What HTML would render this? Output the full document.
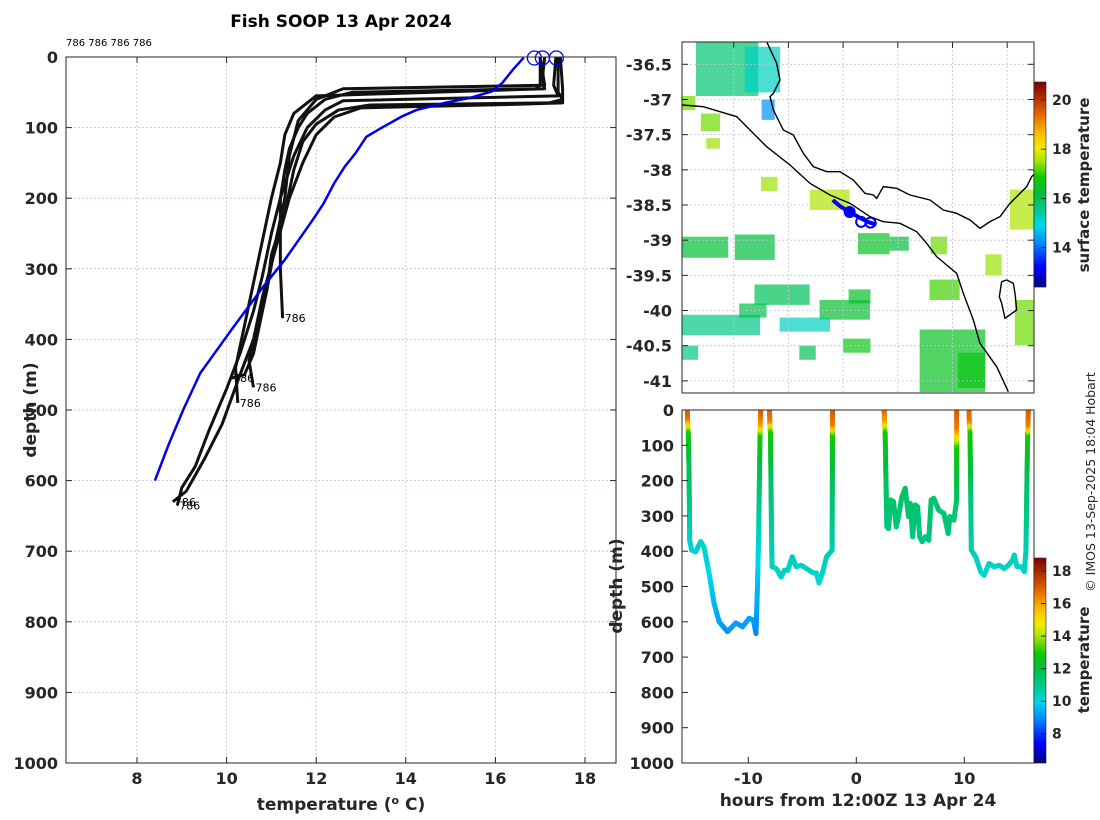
<!DOCTYPE html>
<html><head><meta charset="utf-8"><style>
html,body{margin:0;padding:0;background:#fff;}
svg{display:block;font-family:"DejaVu Sans","Liberation Sans",sans-serif;}
.tk{font-weight:bold;font-size:16px;fill:#262626;}
</style></head><body>
<svg id="c" width="1100" height="820" viewBox="0 0 1100 820" xmlns="http://www.w3.org/2000/svg">
<defs>
<clipPath id="mapclip"><rect x="682" y="42" width="352" height="351"/></clipPath>
<clipPath id="botclip"><rect x="682" y="410" width="352" height="353"/></clipPath>
</defs>
</svg>
<script>
// ---------- data ----------
const blueT = [16.63,16.39,16.15,15.91,15.43,14.87,14.24,13.92,13.44,13.12,12.88,12.64,12.40,12.16,11.92,11.6,11.29,10.81,10.09,10.0,9.41,9.03,8.7,8.4];
const blueD = [1,18,37,49,58,65,75,84,101,113,136,155,179,208,231,260,288,326,388,396,448,500,550,600];
const circT = [16.87,17.05,17.36];
const p1T=[17.0,17.0,16.9,12.8,12.2,11.8,11.6,11.4,11.3,11.2,11.2,11.2,11.25];
const p1D=[0,40,45,50,60,80,100,130,160,200,250,300,370];
const p2T=[17.4,17.4,17.5,17.2,13.2,12.5,12.0,11.7,11.5,11.3,11.0,10.9,10.7,10.5,10.6];
const p2D=[0,50,60,65,68,75,95,120,160,220,280,330,380,430,468];
const p3T=[17.1,17.05,17.1,12.0,11.5,11.3,11.2,11.0,10.8,10.6,10.4,10.2,10.25];
const p3D=[0,30,45,55,80,110,150,200,260,320,380,440,490];
const p4T=[17.35,17.3,17.4,12.6,12.2,11.8,11.5,11.2,11.0,10.8,10.6,10.3,10.0,9.6,9.3,9.0,8.9];
const p4D=[0,40,55,62,75,100,140,200,250,310,360,420,470,530,580,610,635];
const p5T=[17.45,17.5,17.5,16.5,13.0,12.4,12.0,11.7,11.4,11.1,10.8,10.6,10.3,9.9,9.5,9.1,8.8];
const p5D=[0,45,65,67,72,85,110,150,200,270,340,400,450,520,570,615,630];
const p6T=[17.0,17.1,12.6,12.0,11.6,11.4,11.3,11.1,10.9,10.6,10.4,10.1];
const p6D=[0,40,45,60,90,140,200,260,330,420,450,455];
const profT=[p1T,p2T,p3T,p4T,p5T,p6T];
const profD=[p1D,p2D,p3D,p4D,p5D,p6D];
const xTicks=[8,10,12,14,16,18];
const yTicks=[0,100,200,300,400,500,600,700,800,900,1000];

// SST patches: lon0, lat0, lon1, lat1, value
const sstLon0=[138.31,139.2,139.51,138.05,138.4,138.5,140.39,139.5,141.27,141.85,139.02,138.05,139.38,140.57,139.84,138.05,138.05,142.58,142.4,143.1,144.14,144.05,143.6,142.6,141.1,139.1,140.2,141.0];
const sstLat0=[-36.18,-36.25,-37.0,-36.95,-37.2,-37.55,-38.28,-38.1,-38.9,-38.95,-38.92,-38.95,-39.63,-39.85,-40.1,-40.06,-40.5,-39.56,-40.27,-40.6,-39.85,-38.28,-39.2,-38.95,-39.7,-39.9,-40.5,-40.4];
const sstLon1=[139.45,139.85,139.75,138.3,138.75,138.75,141.12,139.8,141.85,142.2,139.75,138.9,140.39,141.49,140.76,139.48,138.35,143.13,143.6,143.6,144.48,144.48,143.9,142.9,141.5,139.6,140.5,141.5];
const sstLat1=[-36.95,-36.9,-37.29,-37.15,-37.45,-37.7,-38.57,-38.3,-39.2,-39.15,-39.28,-39.25,-39.92,-40.13,-40.3,-40.35,-40.7,-39.85,-41.16,-41.1,-40.49,-38.85,-39.5,-39.2,-39.9,-40.1,-40.7,-40.6];
const sstVal=[15.8,15.2,14.3,17.3,17.3,17.5,17.6,17.5,16.5,16.2,16.2,16.3,16.0,16.4,15.2,15.6,15.6,17.1,16.5,16.7,17.3,17.6,17.5,17.3,16.4,16.1,16.0,16.6];
const latTicks=[-36.5,-37,-37.5,-38,-38.5,-39,-39.5,-40,-40.5,-41];
const lonTicks=[139,140,141,142,143,144];
const sstTicks=[14,16,18,20];
const trackLon=[140.81,140.95,141.12,141.3,141.45,141.61];
const trackLat=[-38.43,-38.52,-38.6,-38.68,-38.74,-38.78];

// time-depth dives
const hA=[-15.65,-15.62,-15.58,-15.56,-15.5,-15.45,-15.43,-15.25,-14.88,-14.41,-14.1,-13.63,-13.17,-12.7,-11.93,-11.15,-10.53,-9.91,-9.53,-9.29,-9.15,-9.04,-8.95,-8.91,-8.88,-8.85];
const dA=[0,30,50,66,150,280,369,397,402,373,388,463,548,600,628,603,614,590,595,633,500,350,150,66,40,0];
const tA=[17,16.8,15,13,11.8,11.0,10.4,10.3,10.3,10.4,10.3,10.0,9.6,9.3,9.1,9.3,9.2,9.3,9.3,8.9,9.6,10.4,11.8,13,16,17];
const hB=[-8.04,-8.0,-7.95,-7.9,-7.85,-7.8,-7.42,-6.96,-6.65,-6.34,-5.93,-5.56,-5.09,-4.63,-4.01,-3.70,-3.45,-3.14,-2.76,-2.24,-2.22,-2.21,-2.2,-2.2];
const dB=[0,40,66,200,350,444,449,473,454,454,416,444,440,449,461,462,490,462,416,397,200,66,40,0];
const tB=[17,16.5,13,11.5,10.8,10.4,10.4,10.3,10.4,10.4,10.5,10.4,10.4,10.4,10.3,10.3,10.2,10.3,10.5,10.6,11.6,13,16.5,17];
const hC=[2.58,2.62,2.67,2.75,2.83,2.98,3.20,3.45,3.70,3.91,4.22,4.53,4.69,4.84,5.0,5.22,5.47,5.68,5.87,6.09,6.40,6.71,6.93,7.17,7.64,8.11,8.51,8.66,9.04,9.29,9.29,9.29,9.29];
const dC=[0,40,66,200,331,336,255,260,331,302,246,222,265,302,265,359,269,274,359,373,359,369,255,250,284,293,350,302,312,255,100,50,0];
const tC=[17,16,13,11.6,11.2,11.2,11.4,11.4,11.2,11.3,11.4,11.5,11.4,11.3,11.4,11.1,11.4,11.4,11.1,11.1,11.1,11.1,11.4,11.4,11.3,11.3,11.2,11.3,11.3,11.4,13,16.5,17];
const hD=[10.43,10.47,10.53,10.6,10.65,11.06,11.52,11.83,12.3,12.76,13.23,13.70,14.07,14.47,14.63,14.88,15.31,15.56,15.71,15.8,15.87,15.9,15.93];
const dD=[0,40,66,250,397,416,458,468,435,444,440,449,440,425,411,444,444,458,397,200,66,40,0];
const tD=[17,16.5,13,11.3,10.6,10.5,10.3,10.3,10.4,10.4,10.4,10.4,10.4,10.5,10.5,10.4,10.4,10.3,10.6,11.5,13,16.5,17];
const diveH=[hA,hB,hC,hD], diveD=[dA,dB,dC,dD], diveT=[tA,tB,tC,tD];
const bxTicks=[-10,0,10];
const tempTicks=[8,10,12,14,16,18];

// ---------- helpers ----------
const svg=document.getElementById('c');
const NS='http://www.w3.org/2000/svg';
function mk(tag,attrs,parent){const e=document.createElementNS(NS,tag);for(const k in attrs)e.setAttribute(k,attrs[k]);(parent||svg).appendChild(e);return e;}
const cmStops=[[0,[0,0,127]],[0.1,[0,0,255]],[0.22,[0,140,255]],[0.3,[0,215,235]],[0.38,[0,200,140]],[0.46,[0,190,60]],[0.54,[20,200,0]],[0.62,[170,230,0]],[0.68,[240,235,0]],[0.76,[255,180,0]],[0.86,[220,90,0]],[1,[128,0,0]]];
function jet(f){f=Math.max(0,Math.min(1,f));
 for(let i=0;i<cmStops.length-1;i++){const a=cmStops[i],b=cmStops[i+1];
  if(f<=b[0]){const u=(f-a[0])/(b[0]-a[0]);const c=a[1].map((v,k)=>Math.round(v+(b[1][k]-v)*u));return `rgb(${c[0]},${c[1]},${c[2]})`;}}
 return 'rgb(128,0,0)';}
const xT=t=>137+(t-8)*44.8, yD=d=>57+d*0.706;
const xLon=l=>733.7+(l-139)*54.7, yLat=la=>64.3+(-36.5-la)*70.35;
const xH=h=>856.3+h*10.8, yB=d=>410+d*0.353;
const sstC=v=>jet((v-12.4)/(20.73-12.4));
const tmpC=v=>jet((v-6.2)/(18.8-6.2));

// ---------- left profile plot ----------
const gL=mk('g',{});


mk('rect',{x:66,y:57,width:550,height:706,fill:'#fff'},gL);
xTicks.forEach((t,i)=>{
 const g=mk('line',{x1:xT(t),x2:xT(t),y1:57,y2:763,stroke:i%2?'#d8c0b0':'#b8c0e0','stroke-width':0.8,'stroke-dasharray':'2,2'},gL);
 
 
 mk('line',{x1:xT(t),x2:xT(t),y1:763,y2:757,stroke:'#262626'},gL);
 mk('line',{x1:xT(t),x2:xT(t),y1:57,y2:63,stroke:'#262626'},gL);
 const tx=mk('text',{x:xT(t),y:784,'text-anchor':'middle',class:'tk'},gL);tx.textContent=t;
 
 
});
yTicks.forEach(d=>{
 if(d>0&&d<1000){const g=mk('line',{x1:66,x2:616,y1:yD(d),y2:yD(d),stroke:'#b8c0e0','stroke-width':0.8,'stroke-dasharray':'2,2'},gL);
 
 }
 mk('line',{x1:66,x2:72,y1:yD(d),y2:yD(d),stroke:'#262626'},gL);
 mk('line',{x1:616,x2:610,y1:yD(d),y2:yD(d),stroke:'#262626'},gL);
 const tx=mk('text',{x:58,y:yD(d)+6,'text-anchor':'end',class:'tk'},gL);tx.textContent=d;
 
 
});
profT.forEach((T,i)=>{
 const D=profD[i];
 const pl=mk('polyline',{points:T.map((t,j)=>xT(t)+','+yD(D[j])).join(' '),fill:'none',stroke:'#111','stroke-width':3,'stroke-linejoin':'round'},gL);
 
 
 const lb=mk('text',{x:xT(T[T.length-1])+2,y:yD(D[D.length-1])+4,'font-size':'11px',fill:'#000'},gL);lb.textContent='786';
 
 
});
const bl=mk('polyline',{points:blueT.map((t,j)=>xT(t)+','+yD(blueD[j])).join(' '),fill:'none',stroke:'#0000ee','stroke-width':2.5},gL);


circT.forEach(t=>{const c=mk('circle',{cx:xT(t),cy:yD(0)+1,r:7,fill:'none',stroke:'#0000ee','stroke-width':1.3},gL);
 
 });
mk('rect',{x:66,y:57,width:550,height:706,fill:'none',stroke:'#262626','stroke-width':1},gL);
const t786=mk('text',{x:66,y:46,'font-size':'10px',fill:'#000'});t786.textContent='786 786 786 786';


const ttl=mk('text',{x:341,y:27,'text-anchor':'middle','font-weight':'bold','font-size':'17px',fill:'#000'});ttl.textContent='Fish SOOP 13 Apr 2024';


const xl=mk('text',{x:341,y:810,'text-anchor':'middle','font-weight':'bold','font-size':'17px',fill:'#262626'});
xl.innerHTML='temperature (<tspan dy="-6" font-size="11px">o</tspan><tspan dy="6"> C)</tspan>';


const yl=mk('text',{x:0,y:0,transform:'translate(36,410) rotate(-90)','text-anchor':'middle','font-weight':'bold','font-size':'17px',fill:'#262626'});yl.textContent='depth (m)';



// ---------- map ----------
const gM=mk('g',{});


mk('rect',{x:682,y:42,width:352,height:351,fill:'#fff'},gM);
const gMc=mk('g',{'clip-path':'url(#mapclip)'},gM);
sstVal.forEach((v,i)=>{
 const x0=xLon(sstLon0[i]),x1=xLon(sstLon1[i]),y0=yLat(sstLat0[i]),y1=yLat(sstLat1[i]);
 const r=mk('rect',{x:x0,y:y0,width:x1-x0,height:y1-y0,fill:sstC(v),opacity:0.7},gMc);
 
 
});
lonTicks.forEach(l=>{mk('line',{x1:xLon(l),x2:xLon(l),y1:42,y2:393,stroke:'#c0c4dc','stroke-width':0.8,'stroke-dasharray':'2,2'},gMc);
 mk('line',{x1:xLon(l),x2:xLon(l),y1:42,y2:48,stroke:'#262626'},gM);
 const t=mk('text',{x:xLon(l),y:421,'text-anchor':'middle',class:'tk'},gM);t.textContent=l;
 
 });
latTicks.forEach(la=>{mk('line',{x1:682,x2:1034,y1:yLat(la),y2:yLat(la),stroke:'#c0c4dc','stroke-width':0.8,'stroke-dasharray':'2,2'},gMc);
 mk('line',{x1:682,x2:688,y1:yLat(la),y2:yLat(la),stroke:'#262626'},gM);
 mk('line',{x1:1034,x2:1028,y1:yLat(la),y2:yLat(la),stroke:'#262626'},gM);
 const t=mk('text',{x:672,y:yLat(la)+6,'text-anchor':'end',class:'tk'},gM);t.textContent=la;
 
 });
const zc=(arr)=>arr.map(p=>(610+p[0]/3)+','+(30+p[1]/3)).join(' ');
const coast1=[[470,35],[500,100],[510,150],[490,190],[480,200],[490,240],[500,260],[520,300],[550,315],[580,370],[610,410],[650,425],[690,425],[730,450],[765,490],[790,495],[800,505],[820,470],[860,475],[900,495],[960,510],[1000,540],[1040,550],[1080,570],[1110,595],[1140,575],[1170,560],[1200,520],[1250,470],[1265,440],[1275,430]];
const coast2=[[216,225],[280,230],[330,245],[380,260],[420,300],[470,350],[540,405],[600,460],[660,495],[720,520],[780,560],[820,575],[870,580],[920,605],[950,640],[980,680],[1010,705],[1040,730],[1060,790],[1090,870],[1110,940],[1160,1010],[1195,1085]];
const isl=[[1175,755],[1190,750],[1210,760],[1215,790],[1220,840],[1185,865],[1175,820],[1168,800],[1175,755]];
[coast1,coast2,isl].forEach(c=>{const p=mk('polyline',{points:zc(c),fill:'none',stroke:'#000','stroke-width':1.4},gMc);
 
 });
const trk=mk('polyline',{points:trackLon.map((l,i)=>xLon(l)+','+yLat(trackLat[i])).join(' '),fill:'none',stroke:'#0000ee','stroke-width':4},gMc);


mk('circle',{cx:xLon(141.12),cy:yLat(-38.6),r:6,fill:'#0000ee'},gMc);
mk('circle',{cx:xLon(141.33),cy:yLat(-38.74),r:5,fill:'none',stroke:'#0000ee','stroke-width':2},gMc);
mk('circle',{cx:xLon(141.5),cy:yLat(-38.75),r:5,fill:'none',stroke:'#0000ee','stroke-width':2},gMc);
mk('rect',{x:682,y:42,width:352,height:351,fill:'none',stroke:'#262626'},gM);
// sst colorbar
for(let y=82;y<287;y++){mk('rect',{x:1034,y:y,width:12,height:1.2,fill:jet(1-(y-82)/205)},gM);}
mk('rect',{x:1034,y:82,width:12,height:205,fill:'none',stroke:'#262626','stroke-width':0.6},gM);
sstTicks.forEach(v=>{const y=82+(20.73-v)/(20.73-12.4)*205;
 mk('line',{x1:1046,x2:1041,y1:y,y2:y,stroke:'#262626'},gM);
 const t=mk('text',{x:1052,y:y+5,'font-weight':'bold','font-size':'14px',fill:'#262626'},gM);t.textContent=v;
 
 });
const sl=mk('text',{x:0,y:0,transform:'translate(1089,185) rotate(-90)','text-anchor':'middle','font-weight':'bold','font-size':'15px',fill:'#262626'},gM);sl.textContent='surface temperature';



// ---------- bottom time-depth plot ----------
const gB=mk('g',{});


mk('rect',{x:682,y:410,width:352,height:353,fill:'#fff'},gB);
const gBc=mk('g',{'clip-path':'url(#botclip)'},gB);
diveH.forEach((H,k)=>{
 const D=diveD[k],T=diveT[k];
 const gd=mk('g',{},gBc);
 
 
 for(let i=0;i<H.length-1;i++){
  const n=Math.max(1,Math.ceil(Math.abs(yB(D[i+1])-yB(D[i]))/3));
  for(let s=0;s<n;s++){
   const a=s/n,b=(s+1)/n;
   const h0=H[i]+(H[i+1]-H[i])*a,h1=H[i]+(H[i+1]-H[i])*b;
   const d0=D[i]+(D[i+1]-D[i])*a,d1=D[i]+(D[i+1]-D[i])*b;
   const tv=T[i]+(T[i+1]-T[i])*(a+b)/2;
   mk('line',{x1:xH(h0),y1:yB(d0),x2:xH(h1),y2:yB(d1),stroke:tmpC(tv),'stroke-width':5,'stroke-linecap':'round'},gd);
  }
 }
});
mk('rect',{x:682,y:410,width:352,height:353,fill:'none',stroke:'#262626'},gB);
bxTicks.forEach(h=>{mk('line',{x1:xH(h),x2:xH(h),y1:763,y2:757,stroke:'#262626'},gB);
 const t=mk('text',{x:xH(h),y:784,'text-anchor':'middle',class:'tk'},gB);t.textContent=h;
 
 });
yTicks.forEach(d=>{mk('line',{x1:682,x2:688,y1:yB(d),y2:yB(d),stroke:'#262626'},gB);
 const t=mk('text',{x:674,y:yB(d)+6,'text-anchor':'end',class:'tk'},gB);t.textContent=d;
 
 });
const bxl=mk('text',{x:858,y:806,'text-anchor':'middle','font-weight':'bold','font-size':'17px',fill:'#262626'},gB);bxl.textContent='hours from 12:00Z 13 Apr 24';


const byl=mk('text',{x:0,y:0,transform:'translate(622,586) rotate(-90)','text-anchor':'middle','font-weight':'bold','font-size':'17px',fill:'#262626'},gB);byl.textContent='depth (m)';


for(let y=558;y<763;y++){mk('rect',{x:1034,y:y,width:12,height:1.2,fill:jet(1-(y-558)/205)},gB);}
mk('rect',{x:1034,y:558,width:12,height:205,fill:'none',stroke:'#262626','stroke-width':0.6},gB);
tempTicks.forEach(v=>{const y=558+(18.8-v)/(18.8-6.2)*205;
 mk('line',{x1:1046,x2:1041,y1:y,y2:y,stroke:'#262626'},gB);
 const t=mk('text',{x:1052,y:y+5,'font-weight':'bold','font-size':'14px',fill:'#262626'},gB);t.textContent=v;
 
 });
const tl=mk('text',{x:0,y:0,transform:'translate(1089,660) rotate(-90)','text-anchor':'middle','font-weight':'bold','font-size':'15px',fill:'#262626'},gB);tl.textContent='temperature';


const cp=mk('text',{x:0,y:0,transform:'translate(1095,482) rotate(-90)','text-anchor':'middle','font-size':'12.5px',fill:'#262626'});cp.textContent='© IMOS 13-Sep-2025 18:04 Hobart';


</script>
</body></html>
